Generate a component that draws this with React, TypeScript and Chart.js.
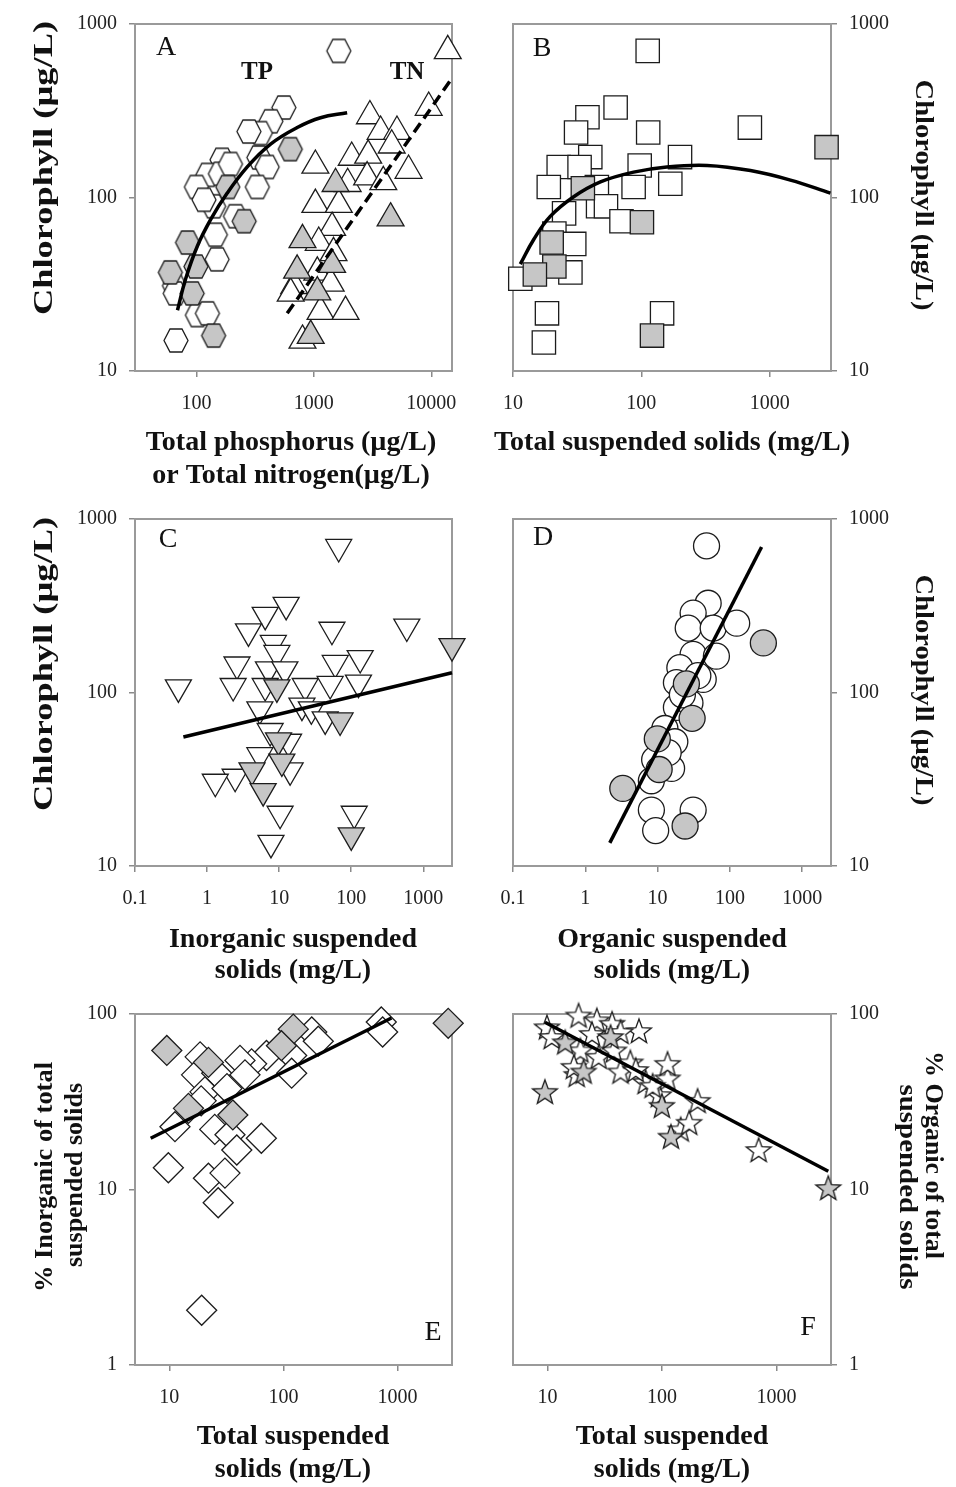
import React, { useEffect, useRef } from 'react';
import { Chart, registerables } from 'chart.js';

Chart.register(...registerables);

// ---------------- Panel A: chlorophyll vs TP (hexagons) and TN (triangles)
const aTpOpenX = [1630, 555, 430, 350, 280, 340, 165, 400, 125, 160, 100, 330, 140, 215, 145, 150, 65, 66, 102, 124, 67, 116, 195];
const aTpOpenY = [700, 330, 275, 235, 240, 170, 165, 150, 135, 137, 115, 115, 89, 78, 61, 44, 31, 28, 21, 21.5, 15, 97, 156];
const aTpGrayX = [630, 185, 255, 84, 99, 60, 92, 140];
const aTpGrayY = [190, 115, 73, 55, 40, 37, 28, 16];
const aTnOpenX = [13800, 9500, 3000, 3700, 5100, 4600, 2100, 2900, 1030, 6400, 1940, 2840, 3900, 1030, 1630, 1430, 1100, 1470, 1070, 680, 1390, 635, 1140, 1860, 800];
const aTnOpenY = [700, 330, 295, 240, 240, 200, 170, 175, 153, 143, 120, 131, 123, 91, 91, 67, 55, 48, 37, 31, 32, 28, 22, 22, 15];
const aTnGrayX = [1530, 4500, 800, 1430, 720, 1070, 940];
const aTnGrayY = [120, 76, 57, 41, 38, 28.5, 16];
const aTpFitX = [69, 81, 102, 132, 183, 271, 428, 722, 1140, 1920];
const aTpFitY = [22.4, 34, 52.5, 74.5, 106, 150, 203, 253, 288, 308];
const aTnFitX = [593, 15000];
const aTnFitY = [21.5, 487];

// ---------------- Panel B: chlorophyll vs TSS (squares)
const bOpenX = [112, 63, 38, 31, 113, 700, 40, 22.7, 33, 97, 200, 19, 45, 87, 168, 25, 46, 53, 70, 21, 30, 28, 11.4, 18.4, 145, 17.4];
const bOpenY = [700, 330, 290, 237, 237, 253, 171, 150, 150, 153, 171, 115, 115, 115, 120, 81, 89, 89, 73, 62, 54, 37, 34, 21.5, 21.5, 14.6];
const bGrayX = [2770, 35, 101, 20, 21, 14.8, 121];
const bGrayY = [195, 113, 72, 55, 40, 36, 16];
const bFitX = [11.4, 14.5, 19.5, 29.7, 48, 87, 158, 325, 707, 1450, 2970];
const bFitY = [41.3, 57.3, 77.8, 101, 123, 140, 150, 153, 143, 126, 106];

// ---------------- Panel C: chlorophyll vs inorganic SS (inverted triangles)
const cOpenX = [67, 12.5, 6.4, 3.75, 54, 590, 8.3, 9.3, 2.6, 60, 133, 7.1, 12, 0.4, 2.3, 6.4, 23, 51, 126, 5.4, 20.7, 28, 43.5, 7.5, 13.5, 5.4, 14.2, 2.45, 1.3, 10.3, 110, 7.7];
const cOpenY = [690, 320, 280, 225, 230, 240, 193, 169, 145, 148, 158, 136, 136, 107, 109, 109, 109, 112, 114, 80, 84, 80, 70, 60, 52, 43.5, 35.6, 32.7, 30.6, 20, 20, 13.6];
const cGrayX = [2500, 9.3, 70, 9.8, 10.9, 4.2, 6, 100];
const cGrayY = [185, 107, 69, 53, 40, 35.6, 27, 15];
const cFitX = [0.469, 2500];
const cFitY = [55.4, 130];

// ---------------- Panel D: chlorophyll vs organic SS (circles)
const dOpenX = [47.5, 50, 31, 26.5, 58.7, 124, 31, 65, 20.3, 18.2, 42.7, 18.2, 28, 12.6, 17.3, 9.1, 15.6, 8.2, 8.2, 31, 9.4, 36, 22, 14];
const dOpenY = [700, 327, 287, 235, 235, 251, 166, 162, 139, 114, 119, 82, 87, 62, 52, 41, 36.5, 31, 21, 21, 16, 125, 97, 45];
const dGrayX = [290, 25, 30, 9.9, 10.5, 3.3, 24];
const dGrayY = [193, 112, 71, 54, 36, 28, 17];
const dFitX = [2.18, 274];
const dFitY = [13.6, 689];

// ---------------- Panel E: % inorganic vs TSS (diamonds)
const eOpenX = [720, 740, 177, 202, 118, 71, 52.6, 41.6, 18.6, 17.3, 26, 46, 118, 20.5, 32, 11.2, 25, 34, 64, 39, 9.8, 22, 30.7, 26.8, 19.2, 19];
const eOpenY = [90, 79, 79, 70, 58, 58, 52, 54.4, 57, 45, 46, 45, 46, 36, 37.6, 22.8, 22, 20.5, 19.6, 16.8, 13.3, 11.6, 12.4, 8.4, 2.05, 32];
const eGrayX = [2780, 122, 96, 9.5, 22, 14.7, 36];
const eGrayY = [88.5, 82, 66, 62, 53, 29, 26.6];
const eFitX = [6.86, 885];
const eFitY = [19.6, 94.9];

// ---------------- Panel F: % organic vs TSS (stars)
const fOpenX = [700, 146, 173, 205, 94, 112, 112, 63, 72, 9.9, 18.7, 27, 36.7, 24.5, 43.5, 10.9, 19.4, 28, 38, 53, 43.5, 59, 18, 17, 83];
const fOpenY = [16.8, 22, 24, 32, 34.5, 43, 52, 80, 41, 84, 98, 92, 88, 77, 79, 74, 62, 57, 62, 53, 47, 48, 45, 50, 39];
const fGrayX = [2840, 120, 100, 9.5, 35.6, 14.3, 20.7];
const fGrayY = [10.2, 20, 30, 36, 74, 69, 47];
const fFitX = [9.5, 2840];
const fFitY = [89.7, 12.7];

// ---------------- tick labels
const chlTicks = [10, 100, 1000];
const pctTicks = [1, 10, 100];
const nutrientTicks = [100, 1000, 10000];
const tssTicks = [10, 100, 1000];
const ssTicks = [0.1, 1, 10, 100, 1000];

const SERIF = '"Liberation Serif", "Times New Roman", Times, serif';
const STROKE = '#1c1c1c';
const GRAY = '#c6c6c6';
const WHITE = '#ffffff';

function makeHex(fill: string): HTMLCanvasElement {
  const rx = 12, ry = 11.5, pad = 2;
  const c = document.createElement('canvas');
  c.width = Math.ceil(2 * rx + 2 * pad);
  c.height = Math.ceil(2 * ry + 2 * pad);
  const ctx = c.getContext('2d')!;
  const cx = c.width / 2, cy = c.height / 2;
  ctx.beginPath();
  ctx.moveTo(cx - rx, cy);
  ctx.lineTo(cx - rx / 2, cy - ry);
  ctx.lineTo(cx + rx / 2, cy - ry);
  ctx.lineTo(cx + rx, cy);
  ctx.lineTo(cx + rx / 2, cy + ry);
  ctx.lineTo(cx - rx / 2, cy + ry);
  ctx.closePath();
  ctx.fillStyle = fill;
  ctx.fill();
  ctx.lineWidth = 1.3;
  ctx.strokeStyle = STROKE;
  ctx.stroke();
  return c;
}

function makeStar(fill: string): HTMLCanvasElement {
  const R = 13, r = 5.4, pad = 2;
  const c = document.createElement('canvas');
  c.width = 2 * R + 2 * pad;
  c.height = 2 * R + 2 * pad;
  const ctx = c.getContext('2d')!;
  const cx = c.width / 2, cy = c.height / 2 + 1;
  ctx.beginPath();
  for (let i = 0; i < 10; i++) {
    const rad = i % 2 === 0 ? R : r;
    const ang = -Math.PI / 2 + (i * Math.PI) / 5;
    const px = cx + rad * Math.cos(ang);
    const py = cy + rad * Math.sin(ang);
    if (i === 0) ctx.moveTo(px, py);
    else ctx.lineTo(px, py);
  }
  ctx.closePath();
  ctx.fillStyle = fill;
  ctx.fill();
  ctx.lineWidth = 1.3;
  ctx.strokeStyle = STROKE;
  ctx.stroke();
  return c;
}

function pts(xs: number[], ys: number[]) {
  return xs.map((x, i) => ({ x, y: ys[i] }));
}

function markerSet(xs: number[], ys: number[], style: any, fill: string, radius: number, order: number, rotation = 0) {
  return {
    data: pts(xs, ys),
    pointStyle: style,
    pointRadius: radius,
    pointHoverRadius: radius,
    pointBackgroundColor: fill,
    pointBorderColor: STROKE,
    pointBorderWidth: 1.3,
    pointRotation: rotation,
    showLine: false,
    clip: false,
    order,
  };
}

function fitSet(xs: number[], ys: number[], dash: number[] = [], tension = 0) {
  return {
    data: pts(xs, ys),
    showLine: true,
    borderColor: '#000',
    borderWidth: 3.5,
    borderDash: dash,
    pointRadius: 0,
    pointHoverRadius: 0,
    tension,
    fill: false,
    clip: false,
    order: 0,
  };
}

interface TextItem {
  t: string;
  x: number;
  y: number;
  size: number;
  bold?: boolean;
  rot?: number;
  len?: number;
}

interface PanelCfg {
  canvas: { left: number; top: number; width: number; height: number };
  plot: { left: number; top: number; right: number; bottom: number };
  yPos: 'left' | 'right';
  xMin: number;
  xMax: number;
  yMin: number;
  yMax: number;
  xTicks: number[];
  yTicks: number[];
  datasets: () => any[];
  texts: TextItem[];
}

function buildConfig(p: PanelCfg): any {
  const cv = p.canvas;
  const pl = p.plot;
  const yW = p.yPos === 'left' ? pl.left - cv.left : cv.left + cv.width - pl.right;
  const xH = cv.top + cv.height - pl.bottom;
  const padding = {
    top: pl.top - cv.top,
    bottom: 0,
    left: p.yPos === 'left' ? 0 : pl.left - cv.left,
    right: p.yPos === 'left' ? cv.left + cv.width - pl.right : 0,
  };
  const tickFont = { family: SERIF, size: 20 };
  const grid = { display: true, drawOnChartArea: false, drawTicks: true, tickLength: 6, color: '#8a8a8a', lineWidth: 1.5 };
  const border = { display: true, color: '#9a9a9a', width: 2 };

  const decor = {
    id: 'panelDecor',
    beforeDatasetsDraw(chart: any) {
      const { ctx, chartArea: a } = chart;
      ctx.save();
      ctx.strokeStyle = '#9a9a9a';
      ctx.lineWidth = 2;
      ctx.strokeRect(a.left, a.top, a.right - a.left, a.bottom - a.top);
      ctx.restore();
    },
    afterDraw(chart: any) {
      const ctx = chart.ctx;
      for (const t of p.texts) {
        ctx.save();
        ctx.translate(t.x - cv.left, t.y - cv.top);
        if (t.rot) ctx.rotate((t.rot * Math.PI) / 180);
        ctx.font = `${t.bold ? 'bold ' : ''}${t.size}px ${SERIF}`;
        ctx.fillStyle = '#111';
        ctx.textAlign = 'center';
        ctx.textBaseline = 'middle';
        if (t.len) {
          const w = ctx.measureText(t.t).width;
          ctx.scale(t.len / w, 1);
        }
        ctx.fillText(t.t, 0, 0);
        ctx.restore();
      }
    },
  };

  return {
    type: 'scatter',
    data: { datasets: p.datasets() },
    options: {
      responsive: false,
      animation: false,
      devicePixelRatio: 1,
      layout: { padding, autoPadding: false },
      plugins: { legend: { display: false }, tooltip: { enabled: false } },
      scales: {
        x: {
          type: 'logarithmic',
          position: 'bottom',
          min: p.xMin,
          max: p.xMax,
          grid,
          border,
          title: { display: false },
          ticks: { autoSkip: false, maxRotation: 0, minRotation: 0, padding: 15, font: tickFont, color: '#222', callback: (v: any) => String(v) },
          afterBuildTicks: (s: any) => {
            s.ticks = p.xTicks.map((v) => ({ value: v }));
          },
          afterFit: (s: any) => {
            s.height = xH;
          },
        },
        y: {
          type: 'logarithmic',
          position: p.yPos,
          min: p.yMin,
          max: p.yMax,
          grid,
          border,
          title: { display: false },
          ticks: { autoSkip: false, padding: 12, font: tickFont, color: '#222', callback: (v: any) => String(v) },
          afterBuildTicks: (s: any) => {
            s.ticks = p.yTicks.map((v) => ({ value: v }));
          },
          afterFit: (s: any) => {
            s.width = yW;
          },
        },
      },
    },
    plugins: [decor],
  };
}

const ROW1 = { top: 18, bottom: 371 };
const ROW2 = { top: 513, bottom: 866 };
const ROW3 = { top: 1010, bottom: 1365 };
const LEFTCOL = { left: 135, right: 452 };
const RIGHTCOL = { left: 513, right: 831 };

const panels: PanelCfg[] = [
  {
    canvas: { left: 0, top: 0, width: 478, height: 495 },
    plot: { left: LEFTCOL.left, right: LEFTCOL.right, top: ROW1.top, bottom: ROW1.bottom },
    yPos: 'left',
    xMin: 30, xMax: 15000, yMin: 10, yMax: 1000,
    xTicks: nutrientTicks, yTicks: chlTicks,
    datasets: () => {
      const hexW = makeHex(WHITE), hexG = makeHex(GRAY);
      return [
        fitSet(aTpFitX, aTpFitY, [], 0.4),
        fitSet(aTnFitX, aTnFitY, [11, 6]),
        markerSet(aTpGrayX, aTpGrayY, hexG, GRAY, 12, 1),
        markerSet(aTnGrayX, aTnGrayY, 'triangle', GRAY, 15.5, 1),
        markerSet(aTpOpenX, aTpOpenY, hexW, WHITE, 12, 2),
        markerSet(aTnOpenX, aTnOpenY, 'triangle', WHITE, 15.5, 2),
      ];
    },
    texts: [
      { t: 'A', x: 166, y: 48, size: 28 },
      { t: 'TP', x: 257, y: 73, size: 25, bold: true },
      { t: 'TN', x: 407, y: 73, size: 25, bold: true },
      { t: 'Chlorophyll (µg/L)', x: 45, y: 168, size: 28, bold: true, rot: -90, len: 294 },
      { t: 'Total phosphorus (µg/L)', x: 291, y: 443, size: 28, bold: true },
      { t: 'or Total nitrogen(µg/L)', x: 291, y: 476, size: 28, bold: true },
    ],
  },
  {
    canvas: { left: 478, top: 0, width: 478, height: 495 },
    plot: { left: RIGHTCOL.left, right: RIGHTCOL.right, top: ROW1.top, bottom: ROW1.bottom },
    yPos: 'right',
    xMin: 10, xMax: 3000, yMin: 10, yMax: 1000,
    xTicks: tssTicks, yTicks: chlTicks,
    datasets: () => [
      fitSet(bFitX, bFitY, [], 0.4),
      markerSet(bGrayX, bGrayY, 'rect', GRAY, 16.5, 1),
      markerSet(bOpenX, bOpenY, 'rect', WHITE, 16.5, 2),
    ],
    texts: [
      { t: 'B', x: 542, y: 49, size: 28 },
      { t: 'Chlorophyll (µg/L)', x: 922, y: 195, size: 25, bold: true, rot: 90, len: 231 },
      { t: 'Total suspended solids (mg/L)', x: 672, y: 443, size: 28, bold: true },
    ],
  },
  {
    canvas: { left: 0, top: 495, width: 478, height: 495 },
    plot: { left: LEFTCOL.left, right: LEFTCOL.right, top: ROW2.top, bottom: ROW2.bottom },
    yPos: 'left',
    xMin: 0.1, xMax: 2500, yMin: 10, yMax: 1000,
    xTicks: ssTicks, yTicks: chlTicks,
    datasets: () => [
      fitSet(cFitX, cFitY),
      markerSet(cGrayX, cGrayY, 'triangle', GRAY, 15, 1, 180),
      markerSet(cOpenX, cOpenY, 'triangle', WHITE, 15, 2, 180),
    ],
    texts: [
      { t: 'C', x: 168, y: 540, size: 28 },
      { t: 'Chlorophyll (µg/L)', x: 45, y: 664, size: 28, bold: true, rot: -90, len: 294 },
      { t: 'Inorganic suspended', x: 293, y: 940, size: 28, bold: true },
      { t: 'solids (mg/L)', x: 293, y: 971, size: 28, bold: true },
    ],
  },
  {
    canvas: { left: 478, top: 495, width: 478, height: 495 },
    plot: { left: RIGHTCOL.left, right: RIGHTCOL.right, top: ROW2.top, bottom: ROW2.bottom },
    yPos: 'right',
    xMin: 0.1, xMax: 2500, yMin: 10, yMax: 1000,
    xTicks: ssTicks, yTicks: chlTicks,
    datasets: () => [
      fitSet(dFitX, dFitY),
      markerSet(dGrayX, dGrayY, 'circle', GRAY, 13, 1),
      markerSet(dOpenX, dOpenY, 'circle', WHITE, 13, 2),
    ],
    texts: [
      { t: 'D', x: 543, y: 538, size: 28 },
      { t: 'Chlorophyll (µg/L)', x: 922, y: 690, size: 25, bold: true, rot: 90, len: 231 },
      { t: 'Organic suspended', x: 672, y: 940, size: 28, bold: true },
      { t: 'solids (mg/L)', x: 672, y: 971, size: 28, bold: true },
    ],
  },
  {
    canvas: { left: 0, top: 990, width: 478, height: 497 },
    plot: { left: LEFTCOL.left, right: LEFTCOL.right, top: ROW3.top, bottom: ROW3.bottom },
    yPos: 'left',
    xMin: 5, xMax: 3000, yMin: 1, yMax: 100,
    xTicks: tssTicks, yTicks: pctTicks,
    datasets: () => [
      fitSet(eFitX, eFitY),
      markerSet(eGrayX, eGrayY, 'rectRot', GRAY, 15, 1),
      markerSet(eOpenX, eOpenY, 'rectRot', WHITE, 15, 2),
    ],
    texts: [
      { t: 'E', x: 433, y: 1333, size: 28 },
      { t: '% Inorganic of total', x: 45, y: 1177, size: 26, bold: true, rot: -90, len: 230 },
      { t: 'suspended solids', x: 75, y: 1175, size: 26, bold: true, rot: -90, len: 184 },
      { t: 'Total suspended', x: 293, y: 1437, size: 28, bold: true },
      { t: 'solids (mg/L)', x: 293, y: 1470, size: 28, bold: true },
    ],
  },
  {
    canvas: { left: 478, top: 990, width: 478, height: 497 },
    plot: { left: RIGHTCOL.left, right: RIGHTCOL.right, top: ROW3.top, bottom: ROW3.bottom },
    yPos: 'right',
    xMin: 5, xMax: 3000, yMin: 1, yMax: 100,
    xTicks: tssTicks, yTicks: pctTicks,
    datasets: () => {
      const starW = makeStar(WHITE), starG = makeStar(GRAY);
      return [
        fitSet(fFitX, fFitY),
        markerSet(fGrayX, fGrayY, starG, GRAY, 13, 1),
        markerSet(fOpenX, fOpenY, starW, WHITE, 13, 2),
      ];
    },
    texts: [
      { t: 'F', x: 808, y: 1328, size: 28 },
      { t: '% Organic of total', x: 932, y: 1155, size: 25, bold: true, rot: 90, len: 208 },
      { t: 'suspended solids', x: 906, y: 1187, size: 25, bold: true, rot: 90, len: 205 },
      { t: 'Total suspended', x: 672, y: 1437, size: 28, bold: true },
      { t: 'solids (mg/L)', x: 672, y: 1470, size: 28, bold: true },
    ],
  },
];

function Panel({ cfg }: { cfg: PanelCfg }) {
  const ref = useRef<HTMLCanvasElement>(null);
  useEffect(() => {
    if (!ref.current) return;
    const chart = new Chart(ref.current, buildConfig(cfg));
    return () => chart.destroy();
  }, [cfg]);
  const { left, top, width, height } = cfg.canvas;
  return (
    <canvas
      ref={ref}
      width={width}
      height={height}
      style={{ position: 'absolute', left, top, width, height, display: 'block' }}
    />
  );
}

export default function App() {
  return (
    <div style={{ position: 'absolute', left: 0, top: 0, width: 956, height: 1487, background: '#fff', overflow: 'hidden' }}>
      {panels.map((p, i) => (
        <Panel key={i} cfg={p} />
      ))}
    </div>
  );
}
